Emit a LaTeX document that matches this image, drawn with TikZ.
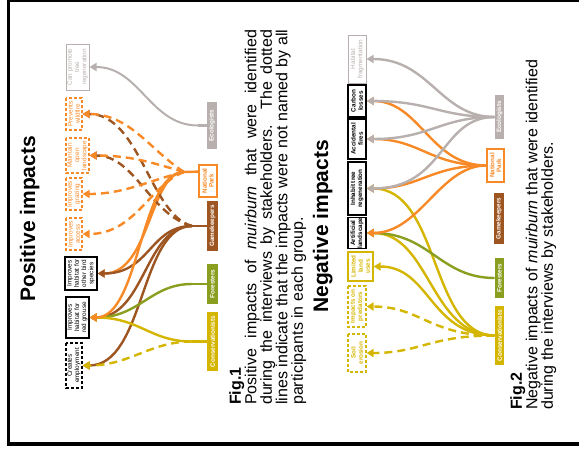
\documentclass[tikz,border=0pt]{standalone}
\usepackage{fontspec}
\setmainfont{Liberation Sans}
\usetikzlibrary{arrows.meta,calc}
\definecolor{cOr}{RGB}{247,137,38}
\definecolor{cBr}{RGB}{157,86,33}
\definecolor{cGr}{RGB}{138,158,32}
\definecolor{cYe}{RGB}{212,182,0}
\definecolor{cGy}{RGB}{184,176,174}
\begin{document}
\begin{tikzpicture}[x=1pt,y=-1pt,
  ibox/.style={rotate=90, draw, line width=1.3pt, align=center, inner sep=0pt, font=\fontsize{6.4}{7.2}\selectfont},
  dbox/.style={ibox, line width=1.2pt, dash pattern=on 3pt off 2pt},
  nbox/.style={ibox, line width=1.6pt, font=\fontsize{6.3}{7.2}\selectfont\bfseries},
  ndbox/.style={nbox, line width=1.2pt, dash pattern=on 3pt off 2pt},
  sbox/.style={rotate=90, draw, line width=1.6pt, align=center, inner sep=0pt, font=\fontsize{6.3}{6.8}\selectfont\bfseries, text=white},
  con/.style={line width=2.4pt, -{Triangle[length=7pt,width=8pt]}},
  dcon/.style={con, dash pattern=on 8pt off 5pt},
  stubline/.style={line width=2.4pt},
  ttl/.style={rotate=90, anchor=base west, inner sep=0pt, font=\fontsize{21}{21}\selectfont\bfseries},
  figcap/.style={rotate=90, anchor=north west, inner sep=0pt}]
\useasboundingbox (0,0) rectangle (579,448);
% frame
\draw[line width=3.6pt, line join=miter] (8.3,0) -- (8.3,444) -- (579,444);
\draw[line width=2pt] (6.5,1) -- (579,1);

% titles
\node[ttl] (t1) at (35,302) {Positive impacts};
\node[ttl] (t2) at (328,313) {Negative impacts};

% ---------- positive impacts ----------
\node[ibox, draw=cGy, text=cGy, line width=1pt, minimum width=46pt, minimum height=23pt] (p1) at (77.5,67) {Can promote\\tree\\regeneration};
\node[dbox, draw=cOr, text=cOr, minimum width=32pt, minimum height=16pt] (p2) at (74,114) {Prevents\\wildfire};
\node[dbox, draw=cOr, text=cOr, minimum width=35pt, minimum height=23pt] (p3) at (77.5,155.5) {Maintain\\open\\landscape};
\node[dbox, draw=cOr, text=cOr, minimum width=32pt, minimum height=16pt] (p4) at (74,194) {Improves\\grazing};
\node[dbox, draw=cOr, text=cOr, minimum width=32pt, minimum height=16pt] (p5) at (74,234) {Improves\\access};
\node[ibox, minimum width=33pt, minimum height=32pt] (p6) at (81,273.5) {Improves\\habitat for\\other bird\\species};
\node[ibox, minimum width=41pt, minimum height=23pt] (p7) at (77.5,317.5) {Improves\\habitat for\\red grouse};
\node[dbox, minimum width=45pt, minimum height=16pt] (p8) at (74,365.5) {Creates\\employment};

\node[sbox, draw=cGy, fill=cGy, minimum width=45pt, minimum height=8pt] (pE) at (212,125.5) {Ecologists};
\node[sbox, draw=cOr, fill=white, text=cOr, minimum width=32pt, minimum height=18pt] (pN) at (208,181) {National\\Park};
\node[sbox, draw=cBr, fill=cBr, minimum width=48pt, minimum height=9pt] (pG) at (212.5,226) {Gamekeepers};
\node[sbox, draw=cGr, fill=cGr, minimum width=38pt, minimum height=9pt] (pF) at (212.5,284) {Foresters};
\node[sbox, draw=cYe, fill=cYe, minimum width=57pt, minimum height=9pt] (pC) at (212.5,341.5) {Conservationists};

\coordinate (jE) at (198,125.5);
\coordinate (jN) at (184,172);
\coordinate (jG) at (192,226);
\coordinate (jF) at (192,284);
\coordinate (jC) at (192,341.5);

\draw[stubline, cGy] (pE.north) -- (jE);
\draw[stubline, cOr] ($(pN.north)!0.56!(pN.north east)$) -- (jN);
\draw[stubline, cBr] (pG.north) -- (jG);
\draw[stubline, cGr] (pF.north) -- (jF);
\draw[stubline, cYe] (pC.north) -- (jC);

\draw[con, cGy, line width=2pt] (jE) .. controls (150,125.5) and (140,67) .. (p1.south);
\draw[con, cOr] (jN) .. controls (150,172) and (150,273.5) .. (p6.south);
\draw[con, cBr] (jG) .. controls (150,226) and (150,273.5) .. (p6.south);
\draw[con, cBr] (jG) .. controls (145,226) and (145,317.5) .. (p7.south);
\draw[con, cBr] (jG) .. controls (140,226) and (145,365.5) .. (p8.south);
\draw[dcon, cBr] (jG) .. controls (150,215) and (140,114) .. (p2.south);
\draw[dcon, cBr] (jG) .. controls (150,215) and (135,155.5) .. (p3.south);
\draw[con, cGr] (jF) .. controls (150,284) and (140,317.5) .. (p7.south);
\draw[con, cYe] (jC) .. controls (150,341.5) and (140,317.5) .. (p7.south);
\draw[dcon, cYe] (jC) .. controls (150,341.5) and (130,365.5) .. (p8.south);
\draw[con, cOr] (jN) .. controls (140,172) and (140,317.5) .. (p7.south);
\draw[dcon, cOr] (jN) .. controls (150,150) and (130,114) .. (p2.south);
\draw[dcon, cOr] (jN) .. controls (150,162) and (130,155.5) .. (p3.south);
\draw[dcon, cOr] (jN) .. controls (150,180) and (125,194) .. (p4.south);
\draw[dcon, cOr] (jN) .. controls (150,185) and (135,234) .. (p5.south);

% ---------- negative impacts ----------
\node[ibox, draw=cGy, text=cGy, line width=1pt, minimum width=48pt, minimum height=18pt] (n1) at (357,59) {Habitat\\fragmentation};
\node[nbox, minimum width=32pt, minimum height=18pt] (n2) at (357,101) {Carbon\\losses};
\node[nbox, minimum width=40pt, minimum height=18pt] (n3) at (357,139) {Accidental\\fires};
\node[nbox, minimum width=53pt, minimum height=18pt] (n4) at (357,188.5) {Inhabit tree\\regeneration};
\node[nbox, minimum width=30pt, minimum height=18pt] (n5) at (357,233) {Artificial\\landscape};
\node[nbox, draw=cYe, text=cYe, line width=1.3pt, minimum width=29pt, minimum height=25pt] (n6) at (360.5,266.5) {Limited\\land\\uses};
\node[ndbox, draw=cYe, text=cYe, minimum width=41pt, minimum height=18pt] (n7) at (357,306.5) {Impacts on\\predators};
\node[ndbox, draw=cYe, text=cYe, minimum width=38pt, minimum height=18pt] (n8) at (357,353) {Soil\\erosion};

\node[sbox, draw=cGy, fill=cGy, minimum width=42pt, minimum height=8pt] (qE) at (499.5,117) {Ecologists};
\node[sbox, draw=cOr, fill=white, text=cOr, minimum width=33pt, minimum height=17pt] (qN) at (495.5,165.5) {National\\Park};
\node[sbox, draw=cBr, fill=cBr, minimum width=49pt, minimum height=9pt] (qG) at (499,218.5) {Gamekeepers};
\node[sbox, draw=cGr, fill=cGr, minimum width=38pt, minimum height=8pt] (qF) at (499.5,278) {Foresters};
\node[sbox, draw=cYe, fill=cYe, minimum width=57pt, minimum height=8pt] (qC) at (499.5,335.5) {Conservationists};

\draw[con, cYe] (qC.north) .. controls (430,335.5) and (440,188.5) .. (n4.south);
\draw[con, cYe] (qC.north) .. controls (430,335.5) and (430,233) .. (n5.south);
\draw[con, cYe] (qC.north) .. controls (430,335.5) and (430,266.5) .. (n6.south);
\draw[dcon, cYe] (qC.north) .. controls (430,335.5) and (420,306.5) .. (n7.south);
\draw[dcon, cYe] (qC.north) .. controls (430,335.5) and (420,353) .. (n8.south);
\draw[con, cGr] (qF.north) .. controls (440,278) and (430,233) .. (n5.south);
\draw[con, cOr] (qN.north) .. controls (430,165.5) and (420,101) .. (n2.south);
\draw[con, cOr] (qN.north) .. controls (430,165.5) and (420,139) .. (n3.south);
\draw[con, cOr] (qN.north) .. controls (430,165.5) and (420,188.5) .. (n4.south);
\draw[con, cOr] (qN.north) .. controls (440,165.5) and (420,233) .. (n5.south);
\draw[con, cGy] (qE.north) .. controls (440,117) and (430,59) .. (n1.south);
\draw[con, cGy] (qE.north) .. controls (440,117) and (430,101) .. (n2.south);
\draw[con, cGy] (qE.north) .. controls (440,117) and (430,139) .. (n3.south);
\draw[con, cGy] (qE.north) .. controls (440,117) and (445,188.5) .. (n4.south);

% captions
\node[figcap] (cap1) at (229,405) {\parbox{375pt}{\fontsize{16}{15.5}\selectfont\textbf{Fig.1}\\
Positive impacts of \emph{muirburn} that were identified\linebreak
during the interviews by stakeholders. The dotted\linebreak
lines indicate that the impacts were not named by all\linebreak
participants in each group.}};
\node[figcap] (cap2) at (510,410) {\parbox{350pt}{\fontsize{16}{15.5}\selectfont\textbf{Fig.2}\\
Negative impacts of \emph{muirburn} that were identified\linebreak
during the interviews by stakeholders.}};
\end{tikzpicture}
\end{document}
